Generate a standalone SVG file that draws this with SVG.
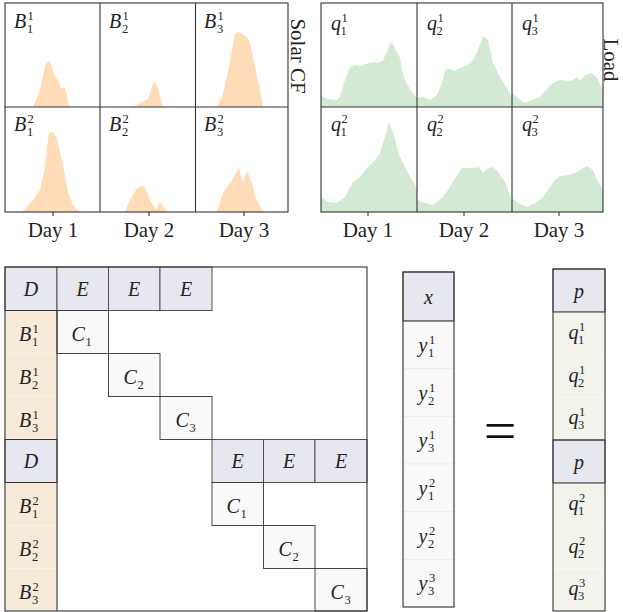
<svg xmlns="http://www.w3.org/2000/svg" width="623" height="612" viewBox="0 0 623 612">
<style>
.m{font-family:"Liberation Serif",serif;font-style:italic;font-size:20px;fill:#222}
.s{font-family:"Liberation Serif",serif;font-size:12.5px;fill:#222}
.t{font-family:"Liberation Serif",serif;font-size:21px;fill:#222}
.sol{fill:#fedcb7;stroke:none}
.lod{fill:#d4e9d3;stroke:none}
.ax{fill:none;stroke:#333;stroke-width:1.1}
.hd{fill:#e7e7ef;stroke:#444;stroke-width:0.9}
.bc{fill:#f7ead8;stroke:#fbf4ea;stroke-width:0.8}
.cc{fill:#f9f9f9;stroke:#333;stroke-width:0.9}
.qc{fill:#f3f4ec;stroke:#fafaf5;stroke-width:0.8}
.xc{fill:#f9f9f9;stroke:#ececec;stroke-width:0.8}
.bd{fill:none;stroke:#333;stroke-width:1.1}
</style>
<rect width="623" height="612" fill="#fff"/>

<g id="solar-panel">
<polygon class="sol" points="33,107 40,90 44,72 46,63 49,61 52,67 54,75 58,80 61,88 65,88 67,97 68,103 71,107"/>
<polygon class="sol" points="133,107 140,103 148,99 151,90 153,83 155,82 158,88 163,107"/>
<polygon class="sol" points="217,107 222,97 227,77 232,50 235,33 239,32 247,37 250,43 255,67 260,90 263,107"/>
<polygon class="sol" points="22,212 33,200 40,190 45,167 47,147 49,133 53,132 57,138 60,153 64,170 68,192 73,205 79,212"/>
<polygon class="sol" points="125,212 130,200 137,188 142,186 145,187 150,200 156,210 160,202 167,212"/>
<polygon class="sol" points="217,212 223,193 232,180 239,168 243,183 247,171 252,183 255,197 263,212"/>
<rect class="ax" x="5" y="3" width="283" height="209"/>
<line class="ax" x1="100" y1="3" x2="100" y2="212"/>
<line class="ax" x1="195.5" y1="3" x2="195.5" y2="212"/>
<line class="ax" x1="5" y1="107" x2="288" y2="107"/>
<line class="ax" x1="53" y1="212" x2="53" y2="216"/>
<line class="ax" x1="149" y1="212" x2="149" y2="216"/>
<line class="ax" x1="244" y1="212" x2="244" y2="216"/>
<text class="t" x="53" y="237" text-anchor="middle">Day 1</text>
<text class="t" x="149" y="237" text-anchor="middle">Day 2</text>
<text class="t" x="244" y="237" text-anchor="middle">Day 3</text>
<text class="t" transform="translate(291,56) rotate(90)" text-anchor="middle">Solar CF</text>
<text class="m" x="14" y="28">B</text><text class="s" x="27.5" y="20">1</text><text class="s" x="27" y="32.5">1</text>
<text class="m" x="109" y="28">B</text><text class="s" x="122.5" y="20">1</text><text class="s" x="122" y="32.5">2</text>
<text class="m" x="204" y="28">B</text><text class="s" x="217.5" y="20">1</text><text class="s" x="217" y="32.5">3</text>
<text class="m" x="14" y="131">B</text><text class="s" x="27.5" y="123">2</text><text class="s" x="27" y="135.5">1</text>
<text class="m" x="109" y="131">B</text><text class="s" x="122.5" y="123">2</text><text class="s" x="122" y="135.5">2</text>
<text class="m" x="204" y="131">B</text><text class="s" x="217.5" y="123">2</text><text class="s" x="217" y="135.5">3</text>
</g>

<g id="load-panel">
<polygon class="lod" points="321,107 321,96 328,99 337,100 340,97 345,80 350,67 355,65 362,66 368,63 373,62 378,63 383,60 387,52 390,43 393,44 400,58 403,75 410,90 417,98 417,107"/>
<polygon class="lod" points="417,107 417,98 423,97 430,100 437,95 442,83 445,70 450,69 455,71 462,67 468,65 473,60 478,50 483,36 488,40 493,63 500,77 507,88 512,98 512,107"/>
<polygon class="lod" points="512,107 512,93 518,98 525,103 532,100 540,97 548,88 553,83 560,80 568,81 573,80 577,77 580,81 585,75 592,73 597,78 603,90 603,107"/>
<polygon class="lod" points="321,212 321,197 328,202 337,203 345,197 353,182 360,177 368,167 375,160 380,153 385,137 389,122 393,133 400,157 408,173 415,185 417,190 417,212"/>
<polygon class="lod" points="417,212 417,200 425,203 433,205 442,198 448,190 455,178 462,168 472,168 479,167 483,173 488,168 493,167 498,172 505,182 512,200 512,212"/>
<polygon class="lod" points="512,212 512,198 518,203 527,207 535,203 543,197 548,190 555,180 560,176 568,175 575,173 582,169 587,166 593,170 598,182 603,190 603,212"/>
<rect class="ax" x="321" y="3" width="282" height="209"/>
<line class="ax" x1="417" y1="3" x2="417" y2="212"/>
<line class="ax" x1="512" y1="3" x2="512" y2="212"/>
<line class="ax" x1="321" y1="107" x2="603" y2="107"/>
<line class="ax" x1="368" y1="212" x2="368" y2="216"/>
<line class="ax" x1="464" y1="212" x2="464" y2="216"/>
<line class="ax" x1="559" y1="212" x2="559" y2="216"/>
<text class="t" x="368" y="237" text-anchor="middle">Day 1</text>
<text class="t" x="464" y="237" text-anchor="middle">Day 2</text>
<text class="t" x="559" y="237" text-anchor="middle">Day 3</text>
<text class="t" transform="translate(604,60) rotate(90)" text-anchor="middle">Load</text>
<text class="m" x="331" y="30">q</text><text class="s" x="341.5" y="22">1</text><text class="s" x="340.5" y="34.5">1</text>
<text class="m" x="427" y="30">q</text><text class="s" x="437.5" y="22">1</text><text class="s" x="436.5" y="34.5">2</text>
<text class="m" x="522" y="30">q</text><text class="s" x="532.5" y="22">1</text><text class="s" x="531.5" y="34.5">3</text>
<text class="m" x="331" y="131">q</text><text class="s" x="341.5" y="123">2</text><text class="s" x="340.5" y="135.5">1</text>
<text class="m" x="427" y="131">q</text><text class="s" x="437.5" y="123">2</text><text class="s" x="436.5" y="135.5">2</text>
<text class="m" x="522" y="131">q</text><text class="s" x="532.5" y="123">2</text><text class="s" x="531.5" y="135.5">3</text>
</g>

<g id="matrix">
<g id="row0">
<rect class="hd" x="5" y="267" width="52" height="43.5"/><text class="m" x="31" y="296" text-anchor="middle">D</text>
<rect class="hd" x="57" y="267" width="51.5" height="43.5"/><text class="m" x="82.7" y="296" text-anchor="middle">E</text>
<rect class="hd" x="108.5" y="267" width="51.5" height="43.5"/><text class="m" x="134.2" y="296" text-anchor="middle">E</text>
<rect class="hd" x="160" y="267" width="52" height="43.5"/><text class="m" x="186" y="296" text-anchor="middle">E</text>
</g>
<g id="B1">
<rect class="bc" x="5" y="310.5" width="52" height="43"/>
<rect class="bc" x="5" y="353.5" width="52" height="43"/>
<rect class="bc" x="5" y="396.5" width="52" height="43"/>
<text class="m" x="19" y="341">B</text><text class="s" x="32.5" y="333">1</text><text class="s" x="32" y="345.5">1</text>
<text class="m" x="19" y="384">B</text><text class="s" x="32.5" y="376">1</text><text class="s" x="32" y="388.5">2</text>
<text class="m" x="19" y="427">B</text><text class="s" x="32.5" y="419">1</text><text class="s" x="32" y="431.5">3</text>
</g>
<g id="C1a"><rect class="cc" x="57" y="310.5" width="51.5" height="43"/><text class="m" x="71.5" y="341">C</text><text class="s" x="85.5" y="345.5">1</text></g>
<g id="C2a"><rect class="cc" x="108.5" y="353.5" width="51.5" height="43"/><text class="m" x="123.5" y="384">C</text><text class="s" x="137.5" y="388.5">2</text></g>
<g id="C3a"><rect class="cc" x="160" y="396.5" width="52" height="43"/><text class="m" x="175.5" y="427">C</text><text class="s" x="189.5" y="431.5">3</text></g>
<g id="row4">
<rect class="hd" x="5" y="439.5" width="52" height="43"/><text class="m" x="31" y="468" text-anchor="middle">D</text>
<rect class="hd" x="212" y="439.5" width="51.5" height="43"/><text class="m" x="237.7" y="468" text-anchor="middle">E</text>
<rect class="hd" x="263.5" y="439.5" width="51.5" height="43"/><text class="m" x="289.2" y="468" text-anchor="middle">E</text>
<rect class="hd" x="315" y="439.5" width="52" height="43"/><text class="m" x="341" y="468" text-anchor="middle">E</text>
</g>
<g id="B2">
<rect class="bc" x="5" y="482.5" width="52" height="43"/>
<rect class="bc" x="5" y="525.5" width="52" height="43"/>
<rect class="bc" x="5" y="568.5" width="52" height="42.5"/>
<text class="m" x="19" y="513">B</text><text class="s" x="32.5" y="505">2</text><text class="s" x="32" y="517.5">1</text>
<text class="m" x="19" y="556">B</text><text class="s" x="32.5" y="548">2</text><text class="s" x="32" y="560.5">2</text>
<text class="m" x="19" y="599">B</text><text class="s" x="32.5" y="591">2</text><text class="s" x="32" y="603.5">3</text>
</g>
<g id="C1b"><rect class="cc" x="212" y="482.5" width="51.5" height="43"/><text class="m" x="226.5" y="513">C</text><text class="s" x="240.5" y="517.5">1</text></g>
<g id="C2b"><rect class="cc" x="263.5" y="525.5" width="51.5" height="43"/><text class="m" x="278.5" y="556">C</text><text class="s" x="292.5" y="560.5">2</text></g>
<g id="C3b"><rect class="cc" x="315" y="568.5" width="52" height="42.5"/><text class="m" x="330.5" y="599">C</text><text class="s" x="344.5" y="603.5">3</text></g>
<line class="bd" x1="57" y1="310.5" x2="57" y2="611"/>
<line class="bd" x1="5" y1="310.5" x2="57" y2="310.5"/>
<line class="bd" x1="5" y1="439.5" x2="57" y2="439.5"/>
<line class="bd" x1="5" y1="482.5" x2="57" y2="482.5"/>
<rect class="bd" x="5" y="267" width="362" height="344"/>
</g>

<g id="vector-x">
<rect class="hd" x="403" y="272" width="51" height="49"/>
<rect class="xc" x="403" y="321" width="51" height="47.7"/>
<rect class="xc" x="403" y="368.7" width="51" height="47.7"/>
<rect class="xc" x="403" y="416.4" width="51" height="47.6"/>
<rect class="xc" x="403" y="464" width="51" height="47.7"/>
<rect class="xc" x="403" y="511.7" width="51" height="47.7"/>
<rect class="xc" x="403" y="559.4" width="51" height="47.6"/>
<rect class="bd" x="403" y="272" width="51" height="335"/>
<line class="bd" x1="403" y1="321" x2="454" y2="321"/>
<text class="m" x="428.5" y="304" text-anchor="middle">x</text>
<text class="m" x="418.5" y="352">y</text><text class="s" x="429" y="344">1</text><text class="s" x="428" y="356.5">1</text>
<text class="m" x="418.5" y="400">y</text><text class="s" x="429" y="392">1</text><text class="s" x="428" y="404.5">2</text>
<text class="m" x="418.5" y="447">y</text><text class="s" x="429" y="439">1</text><text class="s" x="428" y="451.5">3</text>
<text class="m" x="418.5" y="495">y</text><text class="s" x="429" y="487">2</text><text class="s" x="428" y="499.5">1</text>
<text class="m" x="418.5" y="543">y</text><text class="s" x="429" y="535">2</text><text class="s" x="428" y="547.5">2</text>
<text class="m" x="418.5" y="590">y</text><text class="s" x="429" y="582">3</text><text class="s" x="428" y="594.5">3</text>
</g>

<g id="equals"><text x="500" y="450" text-anchor="middle" style="font-family:'Liberation Serif',serif;font-size:58px;fill:#111">=</text></g>

<g id="vector-p">
<rect class="hd" x="553" y="269" width="52" height="43"/>
<rect class="qc" x="553" y="312" width="52" height="43"/>
<rect class="qc" x="553" y="355" width="52" height="42.5"/>
<rect class="qc" x="553" y="397.5" width="52" height="42.5"/>
<rect class="hd" x="553" y="440" width="52" height="43"/>
<rect class="qc" x="553" y="483" width="52" height="43"/>
<rect class="qc" x="553" y="526" width="52" height="42.5"/>
<rect class="qc" x="553" y="568.5" width="52" height="42.5"/>
<rect class="bd" x="553" y="269" width="52" height="342"/>
<line class="bd" x1="553" y1="312" x2="605" y2="312"/>
<line class="bd" x1="553" y1="440" x2="605" y2="440"/>
<line class="bd" x1="553" y1="483" x2="605" y2="483"/>
<text class="m" x="579" y="298" text-anchor="middle">p</text>
<text class="m" x="579" y="469" text-anchor="middle">p</text>
<text class="m" x="568.5" y="339">q</text><text class="s" x="579" y="331">1</text><text class="s" x="578" y="343.5">1</text>
<text class="m" x="568.5" y="382">q</text><text class="s" x="579" y="374">1</text><text class="s" x="578" y="386.5">2</text>
<text class="m" x="568.5" y="424">q</text><text class="s" x="579" y="416">1</text><text class="s" x="578" y="428.5">3</text>
<text class="m" x="568.5" y="510">q</text><text class="s" x="579" y="502">2</text><text class="s" x="578" y="514.5">1</text>
<text class="m" x="568.5" y="553">q</text><text class="s" x="579" y="545">2</text><text class="s" x="578" y="557.5">2</text>
<text class="m" x="568.5" y="595">q</text><text class="s" x="579" y="587">3</text><text class="s" x="578" y="599.5">3</text>
</g>

<g id="connectors"/>
</svg>
